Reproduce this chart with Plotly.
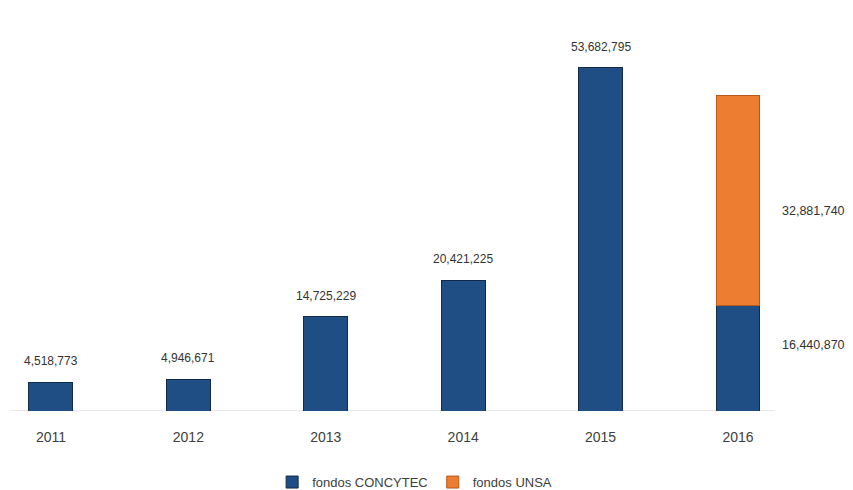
import plotly.graph_objects as go

years = ["2011", "2012", "2013", "2014", "2015", "2016"]
concytec = [4518773, 4946671, 14725229, 20421225, 53682795, 16440870]
unsa = [None, None, None, None, None, 32881740]

BLUE = "#1F4E84"
ORANGE = "#ED7D31"
LABEL = "#333333"

fig = go.Figure()
fig.add_trace(go.Bar(x=years, y=concytec, name="fondos CONCYTEC",
                     marker=dict(color=BLUE, line=dict(color="#13294a", width=1))))
fig.add_trace(go.Bar(x=years, y=unsa, name="fondos UNSA",
                     marker=dict(color=ORANGE, line=dict(color="#b85a1c", width=1))))

def fmt(v):
    return f"{v:,}"

ann = []
for i, v in enumerate(concytec[:5]):
    ann.append(dict(x=i, y=v, xref="x", yref="y", text=fmt(v), showarrow=False,
                    yshift=21, font=dict(size=12, color=LABEL)))
# 2016 labels on the right of the bar
ann.append(dict(x=5, y=concytec[5] / 2, xref="x", yref="y", text=fmt(concytec[5]),
                showarrow=False, xshift=76, yshift=13, font=dict(size=12.5, color=LABEL)))
ann.append(dict(x=5, y=concytec[5] + unsa[5] / 2, xref="x", yref="y", text=fmt(unsa[5]),
                showarrow=False, xshift=76, yshift=-10, font=dict(size=12.5, color=LABEL)))

fig.update_layout(
    barmode="stack",
    width=853, height=490,
    margin=dict(l=10, r=0, t=0, b=79, autoexpand=False),
    paper_bgcolor="white", plot_bgcolor="white",
    bargap=0.68,
    font=dict(family="Liberation Sans, Arial, sans-serif", color="#404040"),
    xaxis=dict(type="category", range=[-0.298, 5.837], showgrid=False, showline=False,
               zeroline=False, ticks="outside", ticklen=13, tickcolor="rgba(0,0,0,0)",
               tickfont=dict(size=14, color="#404040")),
    yaxis=dict(range=[0, 64.3e6], showticklabels=False, showgrid=False, zeroline=False,
               showline=False, ticks=""),
    legend=dict(orientation="h", x=0.48, xanchor="center", y=-0.173, yanchor="middle",
                font=dict(size=13, color="#404040"), itemwidth=30, traceorder="normal"),
    annotations=ann,
    shapes=[dict(type="line", xref="x", yref="y", x0=-0.298, x1=5.27, y0=0, y1=0,
                 line=dict(color="#d0d0d0", width=1), layer="below")],
)

fig.write_html("out.html")
